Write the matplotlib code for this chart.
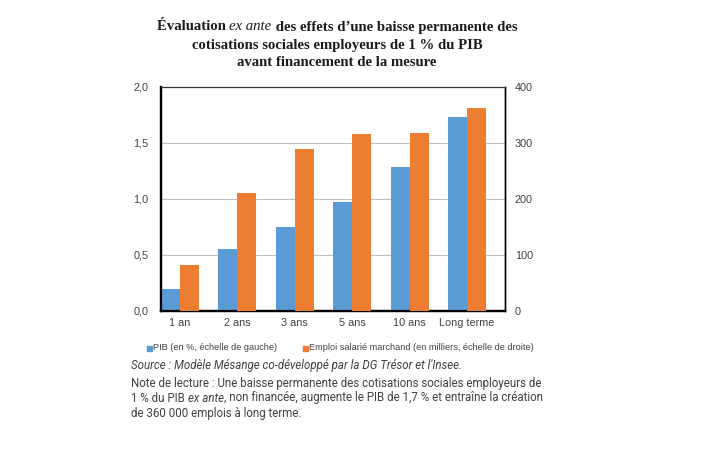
import matplotlib
matplotlib.use("Agg")
import matplotlib.pyplot as plt
import numpy as np
from matplotlib.patches import Rectangle

categories = ["1 an", "2 ans", "3 ans", "5 ans", "10 ans", "Long terme"]
pib = [0.20, 0.55, 0.75, 0.97, 1.29, 1.73]
emploi = [82, 210, 290, 316, 318, 362]
left_ticks = [0.0, 0.5, 1.0, 1.5, 2.0]
left_labels = ["0,0", "0,5", "1,0", "1,5", "2,0"]
right_ticks = [0, 100, 200, 300, 400]

blue = "#5B9BD5"
orange = "#ED7D31"
txt = "#404040"

fig = plt.figure(figsize=(7.2, 4.5), dpi=100)
ax = fig.add_axes([161/720, 1-311/450, (505-161)/720, (311-87)/450])
ax2 = ax.twinx()

x = np.arange(len(categories))
w = 0.33
ax.bar(x - w/2, pib, width=w, color=blue, zorder=3)
ax2.bar(x + w/2, emploi, width=w, color=orange, zorder=3)

ax.set_ylim(0, 2.0)
ax2.set_ylim(0, 400)
ax.set_xlim(-0.33, 5.66)
ax.set_yticks(left_ticks)
ax.set_yticklabels(left_labels)
ax2.set_yticks(right_ticks)
ax.set_xticks(x)
ax.set_xticklabels(categories)
for a in (ax, ax2):
    a.tick_params(length=0, labelsize=7.8, colors=txt, labelfontfamily="Liberation Sans")
ax.tick_params(axis="y", pad=9)
ax2.tick_params(axis="y", pad=7)
ax.tick_params(axis="x", pad=5)
ax.yaxis.grid(True, color="#BFBFBF", linewidth=0.8, zorder=0)
ax.set_axisbelow(True)

for a in (ax, ax2):
    a.spines["left"].set_linewidth(1.6)
    a.spines["bottom"].set_linewidth(1.6)
    a.spines["right"].set_linewidth(1.0)
    a.spines["top"].set_linewidth(0.8)
    a.spines["top"].set_color("#333333")
    a.spines["left"].set_color("black")
    a.spines["bottom"].set_color("black")
    a.spines["right"].set_color("black")

r = fig.canvas.get_renderer()


def mixed(parts, xpix, ypix, align="left", **kw):
    objs, widths = [], []
    for s, style in parts:
        extra = dict(kw)
        if style == "italic":
            extra["fontstyle"] = "italic"
            if extra.get("fontweight") == "bold":
                extra["fontweight"] = "normal"
        t = fig.text(0, 1-ypix/450, s, ha="left", va="center", **extra)
        objs.append(t)
        widths.append(t.get_window_extent(r).width)
    total = sum(widths)
    xs = xpix - total/2 if align == "center" else xpix
    for t, wd in zip(objs, widths):
        t.set_x(xs/720)
        xs += wd


tkw = dict(fontsize=10.6, fontweight="bold", family="Liberation Serif", color="#1a1a1a")
mixed([("Évaluation ", "n"), ("ex ante", "italic"),
       (" des effets d\u2019une baisse permanente des", "n")], 337, 27, align="center", **tkw)
fig.text(337/720, 1-45/450, "cotisations sociales employeurs de 1 % du PIB",
         ha="center", va="center", **tkw)
fig.text(337/720, 1-62/450, "avant financement de la mesure",
         ha="center", va="center", **tkw)

# Legend
ly = 1-348/450
fig.patches.append(Rectangle((147/720, ly-2.5/450), 5/720, 5/450, color=blue, transform=fig.transFigure))
fig.text(153/720, ly, "PIB (en %, échelle de gauche)", fontsize=6.6, family="Liberation Sans",
         ha="left", va="center", color=txt)
fig.patches.append(Rectangle((303/720, ly-2.5/450), 5/720, 5/450, color=orange, transform=fig.transFigure))
fig.text(309/720, ly, "Emploi salarié marchand (en milliers, échelle de droite)", fontsize=6.6,
         family="Liberation Sans", ha="left", va="center", color=txt)

# Source and note
nkw = dict(fontsize=8.3, family="Roboto", color=txt)
fig.text(131/720, 1-366/450, "Source : Modèle Mésange co-développé par la DG Trésor et l'Insee.",
         fontstyle="italic", ha="left", va="center", **nkw)
fig.text(131/720, 1-383/450,
         "Note de lecture : Une baisse permanente des cotisations sociales employeurs de",
         ha="left", va="center", **nkw)
mixed([("1 % du PIB ", "n"), ("ex ante", "italic"),
       (", non financée, augmente le PIB de 1,7 % et entraîne la création", "n")], 131, 398, **nkw)
fig.text(131/720, 1-413/450, "de 360 000 emplois à long terme.", ha="left", va="center", **nkw)

fig.savefig("out.png", dpi=100, facecolor="white")
